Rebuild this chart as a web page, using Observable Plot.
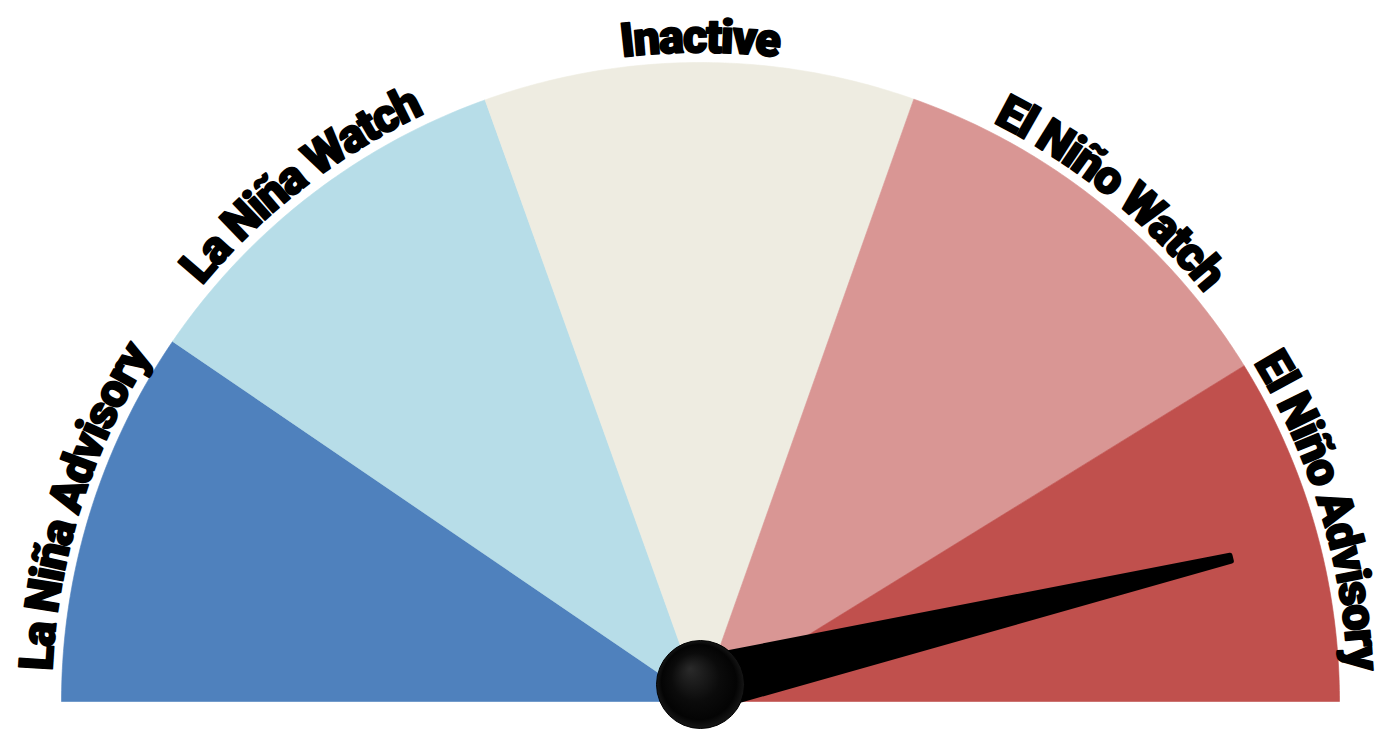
<!DOCTYPE html>
<html><head><meta charset="utf-8">
<script src="https://cdn.jsdelivr.net/npm/d3@7"></script>
<script src="https://cdn.jsdelivr.net/npm/@observablehq/plot@0.6"></script>
<style>
html,body{margin:0;padding:0;background:#fff;}
#chart{width:1377px;height:731px;overflow:hidden}
</style></head><body><div id="chart"></div>
<script>
// ---- data ----
const sectors = ["La Niña Advisory", "La Niña Watch", "Inactive", "El Niño Watch", "El Niño Advisory"];
const sectorStart = [0, 34.3, 70.3, 109.5, 148.3];   // degrees, measured from the left end of the dial
const sectorEnd   = [34.3, 70.3, 109.5, 148.3, 180];
const sectorColors = ["#4f81bd", "#b7dde8", "#eeece1", "#d99694", "#c0504d"];
const labelAngle = [17.4, 52.3, 90, 128.9, 162.9];
const needleAngle = 166.6;

// ---- geometry / style ----
const W = 1377, H = 731, CX = 700, CY = 701, R = 639;
const xDomain = [-CX / R, (W - CX) / R];
const yDomain = [-(H - CY) / R, CY / R];
const pivotLift = 17 / R;
const needleLength = 545 / R;
const needleBase = 26 / R, needleTip = 3 / R;
const labelRadius = 1.015;

const rad = d => d * Math.PI / 180;
const ux = t => -Math.cos(rad(t));
const uy = t => Math.sin(rad(t));

const wedges = sectors.flatMap((name, i) => {
  const pts = [{name, x: 0, y: 0}];
  const n = Math.ceil((sectorEnd[i] - sectorStart[i]) * 2);
  for (let k = 0; k <= n; k++) {
    const t = sectorStart[i] + (sectorEnd[i] - sectorStart[i]) * k / n;
    pts.push({name, x: ux(t), y: uy(t)});
  }
  pts.push({name, x: 0, y: 0});
  return pts;
});

const dx = ux(needleAngle), dy = uy(needleAngle);
const nx = -dy, ny = dx;
const pivot = {x: 0, y: pivotLift};
const tip = {x: pivot.x + dx * needleLength, y: pivot.y + dy * needleLength};
const needle = [
  {x: pivot.x + nx * needleBase, y: pivot.y + ny * needleBase},
  {x: tip.x + nx * needleTip, y: tip.y + ny * needleTip},
  {x: tip.x - nx * needleTip, y: tip.y - ny * needleTip},
  {x: pivot.x - nx * needleBase, y: pivot.y - ny * needleBase}
];

function arcLabels(index, scales) {
  const ns = "http://www.w3.org/2000/svg";
  const g = document.createElementNS(ns, "g");
  const sx = scales.x, sy = scales.y;
  const rpx = sx(labelRadius) - sx(0);
  const defs = document.createElementNS(ns, "defs");
  g.appendChild(defs);
  sectors.forEach((name, i) => {
    const t0 = labelAngle[i] - 40, t1 = labelAngle[i] + 40;
    const x0 = sx(ux(t0) * labelRadius), y0 = sy(uy(t0) * labelRadius);
    const x1 = sx(ux(t1) * labelRadius), y1 = sy(uy(t1) * labelRadius);
    const p = document.createElementNS(ns, "path");
    p.setAttribute("id", "lblpath" + i);
    p.setAttribute("d", `M${x0},${y0} A${rpx},${rpx} 0 0 1 ${x1},${y1}`);
    defs.appendChild(p);
    const t = document.createElementNS(ns, "text");
    t.setAttribute("text-anchor", "middle");
    t.setAttribute("font-family", "Roboto, Lato, 'DejaVu Sans', sans-serif");
    t.setAttribute("font-weight", "900");
    t.setAttribute("font-size", "47");
    t.setAttribute("letter-spacing", "-1.6");
    t.setAttribute("fill", "#000");
    t.setAttribute("stroke", "#000");
    t.setAttribute("stroke-width", "1.8");
    t.setAttribute("stroke-linejoin", "round");
    const tp = document.createElementNS(ns, "textPath");
    tp.setAttribute("href", "#lblpath" + i);
    tp.setAttribute("startOffset", "50%");
    tp.textContent = name;
    t.appendChild(tp);
    g.appendChild(t);
  });
  return g;
}

const plot = Plot.plot({
  width: W, height: H,
  margin: 0,
  x: {domain: xDomain, axis: null},
  y: {domain: yDomain, axis: null},
  color: {domain: sectors, range: sectorColors},
  style: {background: "#fff", overflow: "visible"},
  marks: [
    Plot.line(wedges, {x: "x", y: "y", z: "name", fill: "name", stroke: "name", strokeWidth: 0.6, curve: "linear"}),
    Plot.line(needle, {x: "x", y: "y", fill: "#000", stroke: "#000", strokeWidth: 5, strokeLinejoin: "round", curve: "linear-closed"}),
    Plot.dot([pivot], {x: "x", y: "y", r: 44, fill: "url(#ballGrad)", stroke: "#000", strokeWidth: 1}),
    arcLabels
  ]
});

const ns = "http://www.w3.org/2000/svg";
const defs = document.createElementNS(ns, "defs");
defs.innerHTML = `<radialGradient id="ballGrad" cx="50%" cy="50%" r="50%" fx="38%" fy="32%">
  <stop offset="0%" stop-color="#2a2a2a"/>
  <stop offset="55%" stop-color="#0b0b0b"/>
  <stop offset="85%" stop-color="#040404"/>
  <stop offset="100%" stop-color="#161616"/>
</radialGradient>`;
plot.insertBefore(defs, plot.firstChild);
document.getElementById("chart").appendChild(plot);
</script>
</body></html>
